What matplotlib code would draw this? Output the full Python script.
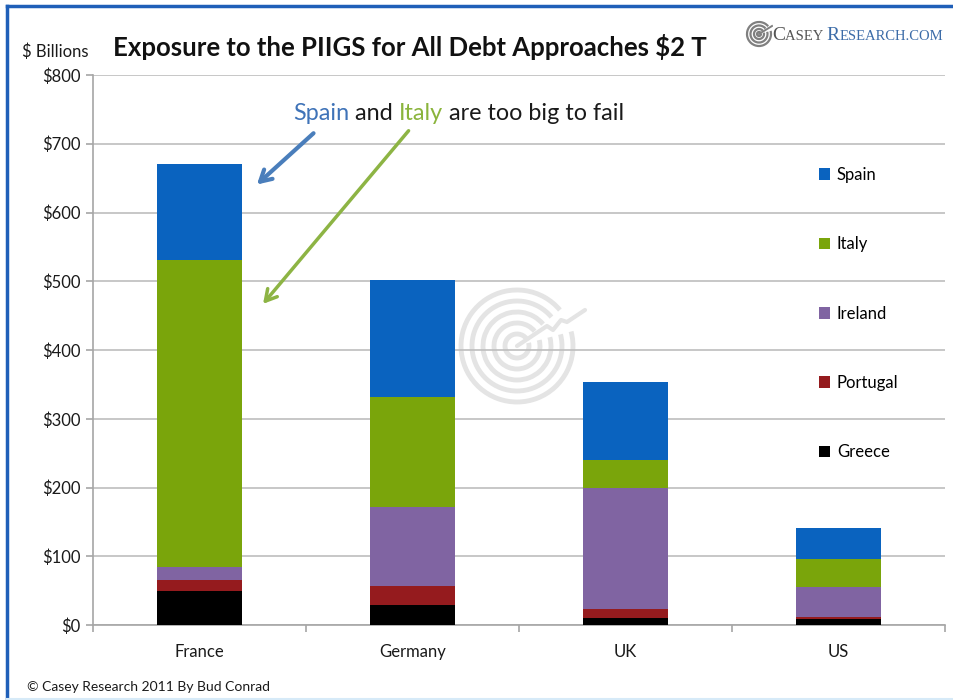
import numpy as np
import matplotlib
matplotlib.use("Agg")
import matplotlib.pyplot as plt
from matplotlib.patches import Arc
from matplotlib.lines import Line2D
from matplotlib.offsetbox import TextArea, HPacker, AnnotationBbox

plt.rcParams['font.family'] = ['Lato', 'DejaVu Sans']

# exposure in $ billions, stacked bottom to top
countries = ['France', 'Germany', 'UK', 'US']
greece = [50, 29, 10, 9]
portugal = [15, 28, 14, 3]
ireland = [19, 114, 175, 44]
italy = [447, 161, 41, 40]
spain = [140, 170, 113, 45]

series = [('Greece', greece, '#000000'),
          ('Portugal', portugal, '#951B1E'),
          ('Ireland', ireland, '#8064A2'),
          ('Italy', italy, '#7AA50B'),
          ('Spain', spain, '#0A63BF')]

yticks = [0, 100, 200, 300, 400, 500, 600, 700, 800]
ylabels = ['$' + str(v) for v in yticks]

fig = plt.figure(figsize=(9.54, 7.0), dpi=100)
fig.patch.set_facecolor('white')

# faint logo mark behind the plot
wm = fig.add_axes([(517 - 75) / 954, (700 - 346 - 75) / 700, 150 / 954, 150 / 700], zorder=0)
wm.set_xlim(-75, 75)
wm.set_ylim(-75, 75)
wm.axis('off')
for r in [56, 45, 34, 23, 12]:
    wm.add_patch(Arc((0, 0), 2 * r, 2 * r, theta1=40, theta2=375,
                     color='#E4E4E4', lw=3.5))
wm.plot([0, 30, 36, 44, 50, 68], [0, 20, 16, 26, 24, 36], color='#E4E4E4', lw=3,
        solid_capstyle='round')

ax = fig.add_axes([93 / 954, 75 / 700, 852 / 954, 550 / 700], zorder=1)
ax.patch.set_alpha(0)

x = np.arange(len(countries))
bottom = np.zeros(len(countries))
handles = []
for name, vals, color in series:
    b = ax.bar(x, vals, 0.395, bottom=bottom, color=color, label=name, zorder=3)
    bottom += np.array(vals)
    handles.append(b)

ax.set_xlim(-0.5, 3.5)
ax.set_ylim(0, 800)
ax.set_yticks(yticks)
ax.set_yticklabels(ylabels, fontsize=12, color='#1a1a1a')
ax.yaxis.grid(True, color='#BEBEBE', lw=1.2, zorder=0)
ax.set_axisbelow(True)
ax.set_xticks(x)
ax.set_xticklabels(countries, fontsize=12, color='#1a1a1a')
ax.tick_params(axis='x', which='major', length=0, pad=14)
ax.set_xticks(np.arange(-0.5, 4.0, 1.0), minor=True)
ax.tick_params(axis='x', which='minor', length=5, color='#A6A6A6', width=1.2)
ax.tick_params(axis='y', length=5, color='#A6A6A6', width=1.2, pad=4)
for s in ['top', 'right']:
    ax.spines[s].set_visible(False)
for s in ['left', 'bottom']:
    ax.spines[s].set_color('#A6A6A6')
    ax.spines[s].set_linewidth(1.2)

leg = ax.legend(handles=handles[::-1], loc='upper left', bbox_to_anchor=(0.834, 0.86),
                frameon=False, fontsize=12, labelspacing=3.2, handlelength=0.7,
                handleheight=0.7, handletextpad=0.4)

# callout arrows
ax.annotate('', xy=(0.26, 638), xytext=(0.545, 718),
            arrowprops=dict(arrowstyle='->,head_length=0.8,head_width=0.45',
                            color='#4A7EBB', lw=3))
ax.annotate('', xy=(0.29, 464), xytext=(0.99, 722),
            arrowprops=dict(arrowstyle='->,head_length=0.8,head_width=0.45',
                            color='#8DB444', lw=2.5))

# two-colour callout text
parts = [('Spain', '#3F73B8'), (' and ', '#1a1a1a'), ('Italy', '#8AB43C'),
         (' are too big to fail', '#1a1a1a')]
boxes = [TextArea(t, textprops=dict(color=c, fontsize=16.8, family=['Lato', 'DejaVu Sans']))
         for t, c in parts]
pack = HPacker(children=boxes, align='baseline', pad=0, sep=0)
fig.add_artist(AnnotationBbox(pack, (293 / 954, 1 - 113 / 700), xycoords='figure fraction',
                              box_alignment=(0, 0.5), frameon=False))

fig.text(113 / 954, 1 - 47 / 700, 'Exposure to the PIIGS for All Debt Approaches $2 T',
         fontsize=18.5, fontweight='bold', va='center', ha='left', color='#111111')
fig.text(55 / 954, 1 - 52 / 700, '$ Billions', fontsize=12, ha='center', va='center',
         color='#1a1a1a')
fig.text(27 / 954, 1 - 687 / 700, '\u00a9 Casey Research 2011 By Bud Conrad',
         fontsize=10, ha='left', va='center', color='#1a1a1a')

# publisher mark, top right
serif = ['Liberation Serif', 'DejaVu Serif']
logo_parts = [('C', 14, '#555555'), ('ASEY ', 10.5, '#555555'),
              ('R', 14, '#3C6CA8'), ('ESEARCH.COM', 10.5, '#3C6CA8')]
lboxes = [TextArea(t, textprops=dict(color=c, fontsize=s, family=serif))
          for t, s, c in logo_parts]
lpack = HPacker(children=lboxes, align='baseline', pad=0, sep=0)
fig.add_artist(AnnotationBbox(lpack, (772 / 954, 1 - 35 / 700), xycoords='figure fraction',
                              box_alignment=(0, 0.5), frameon=False))
ic = fig.add_axes([(759 - 14) / 954, (700 - 34 - 14) / 700, 28 / 954, 28 / 700])
ic.set_xlim(-14, 14)
ic.set_ylim(-14, 14)
ic.axis('off')
for r in [12, 8.5, 5, 2]:
    ic.add_patch(Arc((0, 0), 2 * r, 2 * r, theta1=40, theta2=375, color='#808080', lw=1.6))
ic.plot([0, 13], [0, 8], color='#808080', lw=1.4)

# blue frame
fig.add_artist(Line2D([7 / 954, 7 / 954], [0, 1 - 6 / 700], color='#1F5FB8', lw=2.5))
fig.add_artist(Line2D([7 / 954, 1], [1 - 6 / 700, 1 - 6 / 700], color='#1F5FB8', lw=2.5))
fig.add_artist(Line2D([7 / 954, 1], [1 / 700, 1 / 700], color='#D6EAF8', lw=1.5))

fig.savefig('out.png', dpi=100)
